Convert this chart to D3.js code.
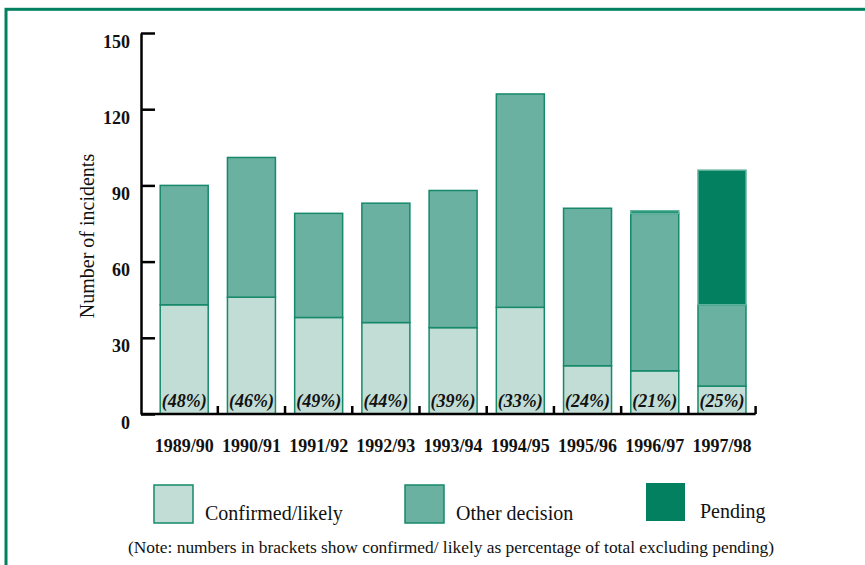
<!DOCTYPE html>
<html lang="en">
<head>
<meta charset="UTF-8">
<title>Incidents by year</title>
<script src="https://cdn.jsdelivr.net/npm/d3@7"></script>
<style>
    body { margin: 0; background: #fff; }
    text { font-family: "Liberation Serif", "Times New Roman", serif; fill: #111; }
</style>
</head>
<body>
<script>

    // chart data
    var years = ["1989/90", "1990/91", "1991/92", "1992/93", "1993/94", "1994/95", "1995/96", "1996/97", "1997/98"];
    var confirmed = [43, 46, 38, 36, 34, 42, 19, 17, 11];
    var otherDecision = [47, 55, 41, 47, 54, 84, 62, 62, 32];
    var pending = [0, 0, 0, 0, 0, 0, 0, 1, 53];
    var pctLabels = ["(48%)", "(46%)", "(49%)", "(44%)", "(39%)", "(33%)", "(24%)", "(21%)", "(25%)"];
    var yTicks = [0, 30, 60, 90, 120, 150];
    var seriesNames = ["Confirmed/likely", "Other decision", "Pending"];

    var colors = {light: "#c2ddd5", mid: "#6ab1a1", dark: "#02805f", edge: "#16896b"};

    var W = 865, H = 565;
    var axisX = 141, baseY = 414, topY = 33;

    var svg = d3.select("body").append("svg")
            .attr("width", W)
            .attr("height", H);

    // green frame, runs off the right and bottom edges
    svg.append("rect")
            .attr("x", 6).attr("y", 9.3)
            .attr("width", 920).attr("height", 620)
            .attr("fill", "none")
            .attr("stroke", colors.dark)
            .attr("stroke-width", 3);

    var x = d3.scaleBand()
            .domain(years)
            .range([150.6, 755.6])
            .paddingInner(0.286)
            .paddingOuter(0.143);

    var y = d3.scaleLinear()
            .domain([0, 150])
            .range([baseY, topY]);

    // stacked rows
    var rows = years.map(function (d, i) {
        return {year: d, confirmed: confirmed[i], other: otherDecision[i], pending: pending[i]};
    });
    var stack = d3.stack().keys(["confirmed", "other", "pending"])(rows);
    var fills = [colors.light, colors.mid, colors.dark];
    var strokes = [colors.edge, colors.edge, "#5fb29c"];

    var layers = svg.append("g")
            .selectAll("g")
            .data(stack)
            .enter()
            .append("g")
            .attr("fill", function (d, i) { return fills[i]; })
            .attr("stroke", function (d, i) { return strokes[i]; })
            .attr("stroke-width", 1.5);

    layers.selectAll("rect")
            .data(function (d) { return d.filter(function (s) { return s[1] > s[0]; }); })
            .enter()
            .append("rect")
            .attr("x", function (d) { return x(d.data.year); })
            .attr("y", function (d) { return y(d[1]); })
            .attr("width", x.bandwidth())
            .attr("height", function (d) { return y(d[0]) - y(d[1]); });

    // percentage labels inside the bars
    svg.append("g")
            .selectAll("text")
            .data(pctLabels)
            .enter()
            .append("text")
            .attr("x", function (d, i) { return x(years[i]) + x.bandwidth() / 2; })
            .attr("y", baseY - 7)
            .attr("text-anchor", "middle")
            .style("font-size", "18px")
            .style("font-weight", "bold")
            .style("font-style", "italic")
            .text(function (d) { return d; });

    // y axis
    var yAxis = d3.axisLeft(y)
            .tickValues(yTicks)
            .tickSize(-14)
            .tickSizeOuter(0)
            .tickPadding(11)
            .tickFormat(d3.format("d"));

    var yAxisGroup = svg.append("g")
            .attr("transform", "translate(" + axisX + ",0)")
            .call(yAxis);
    yAxisGroup.select(".domain").attr("stroke", "#000").attr("stroke-width", 2.5);
    yAxisGroup.selectAll(".tick line").attr("stroke", "#000").attr("stroke-width", 2.5);
    yAxisGroup.selectAll(".tick text")
            .attr("dy", "0.78em")
            .attr("font-family", null)
            .attr("font-size", null)
            .style("font-size", "18px")
            .style("font-weight", "bold");

    // x axis: baseline with small upward ticks between the bars
    var xAxisGroup = svg.append("g");
    xAxisGroup.append("line")
            .attr("x1", axisX).attr("x2", x.range()[1])
            .attr("y1", baseY).attr("y2", baseY)
            .attr("stroke", "#000").attr("stroke-width", 2.5);
    xAxisGroup.selectAll("line.tick")
            .data(years)
            .enter()
            .append("line")
            .attr("class", "tick")
            .attr("x1", function (d) { return x(d) + x.bandwidth() + (x.step() - x.bandwidth()) / 2; })
            .attr("x2", function (d) { return x(d) + x.bandwidth() + (x.step() - x.bandwidth()) / 2; })
            .attr("y1", baseY).attr("y2", baseY - 8)
            .attr("stroke", "#000").attr("stroke-width", 2.5);
    xAxisGroup.selectAll("text")
            .data(years)
            .enter()
            .append("text")
            .attr("x", function (d) { return x(d) + x.bandwidth() / 2; })
            .attr("y", 452)
            .attr("text-anchor", "middle")
            .style("font-size", "18px")
            .style("font-weight", "bold")
            .text(function (d) { return d; });

    svg.append("text")
            .attr("transform", "translate(94,236) rotate(-90)")
            .attr("text-anchor", "middle")
            .style("font-size", "20px")
            .text("Number of incidents");

    // legend
    var legendX = [154, 405, 646];
    var legendY = [485, 485, 483];
    var legend = svg.append("g")
            .selectAll("g")
            .data(seriesNames)
            .enter()
            .append("g")
            .attr("transform", function (d, i) { return "translate(" + legendX[i] + "," + legendY[i] + ")"; });
    legend.append("rect")
            .attr("width", 39).attr("height", 38)
            .attr("fill", function (d, i) { return fills[i]; })
            .attr("stroke", function (d, i) { return i < 2 ? colors.edge : "none"; })
            .attr("stroke-width", 1.5);
    legend.append("text")
            .attr("x", function (d, i) { return i < 2 ? 51 : 54; })
            .attr("y", 35)
            .style("font-size", "20px")
            .text(function (d) { return d; });

    svg.append("text")
            .attr("x", 451)
            .attr("y", 553)
            .attr("text-anchor", "middle")
            .style("font-size", "17.4px")
            .text("(Note: numbers in brackets show confirmed/ likely as percentage of total excluding pending)");

</script>
</body>
</html>
